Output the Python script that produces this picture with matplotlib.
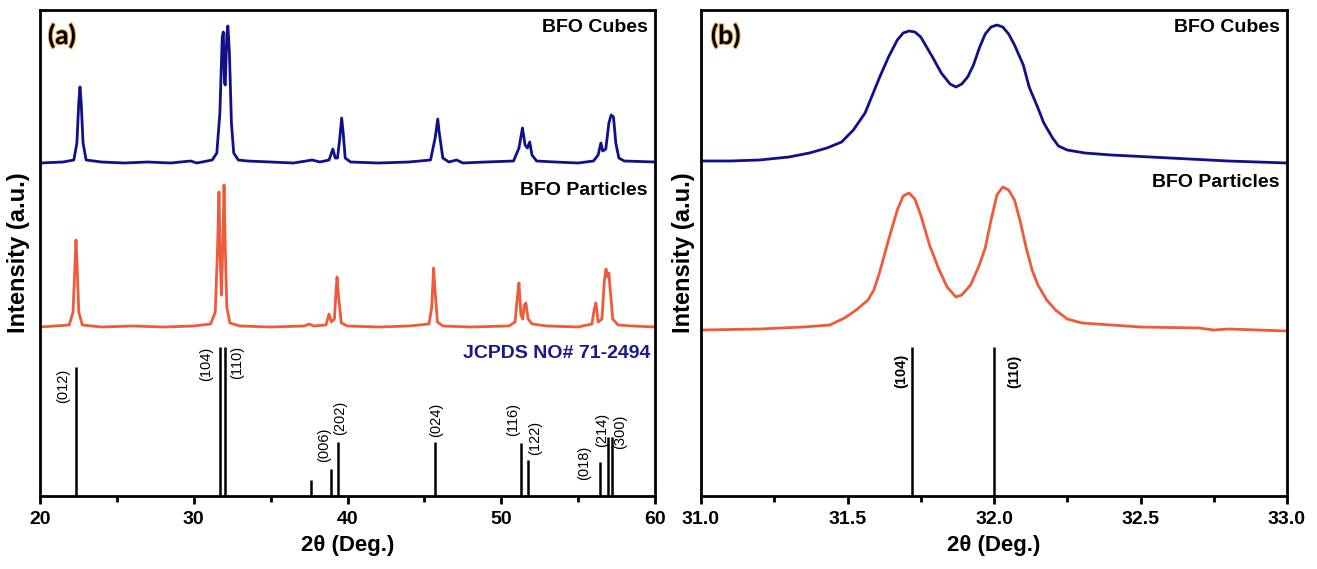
import matplotlib
matplotlib.use('Agg')
import matplotlib.pyplot as plt
import matplotlib.patheffects as pe
from matplotlib.ticker import MultipleLocator, FormatStrFormatter

# ---- data (intensity in arbitrary units above each baseline) ----
wide_2theta_cubes = [20.0, 21.5, 22.2, 22.4, 22.52, 22.6, 22.68, 22.8, 23.0, 24.0, 25.5, 27.0, 28.5,
                     29.8, 30.2, 31.2, 31.5, 31.7, 31.85, 31.92, 32.0, 32.05, 32.15, 32.22, 32.32,
                     32.45, 32.6, 32.9, 33.5, 35.0, 36.5, 37.7, 38.2, 38.8, 39.05, 39.2, 39.35, 39.5,
                     39.62, 39.72, 39.85, 40.2, 42.0, 44.0, 45.4, 45.7, 45.87, 45.97, 46.2, 46.6,
                     47.1, 47.5, 49.0, 50.8, 51.15, 51.38, 51.55, 51.7, 51.85, 52.0, 52.3, 53.5,
                     55.0, 56.0, 56.3, 56.48, 56.6, 56.8, 57.0, 57.15, 57.3, 57.45, 57.65, 58.0, 60.0]
wide_int_cubes = [0, 1, 3, 20, 60, 76, 60, 20, 3, 1, 0, 1, 0,
                  2, 0, 3, 10, 50, 125, 131, 80, 78, 128, 137, 110,
                  40, 10, 3, 2, 1, 0, 3, 1, 3, 14, 5, 5, 25,
                  45, 30, 5, 1, 0, 1, 3, 25, 44, 30, 5, 1,
                  3, 0, 1, 2, 15, 35, 18, 15, 21, 8, 2, 1,
                  0, 2, 8, 20, 12, 14, 40, 48, 46, 20, 5, 2, 1]

wide_2theta_particles = [20.0, 21.0, 21.9, 22.15, 22.27, 22.34, 22.42, 22.52, 22.75, 24.0, 26.0, 28.0,
                         30.0, 31.1, 31.4, 31.55, 31.64, 31.72, 31.8, 31.88, 31.97, 32.05, 32.15,
                         32.35, 33.0, 35.0, 37.2, 37.5, 37.8, 38.6, 38.8, 38.95, 39.15, 39.25, 39.32,
                         39.42, 39.6, 40.0, 42.0, 44.0, 45.3, 45.48, 45.6, 45.7, 45.85, 46.2, 48.0,
                         50.5, 50.9, 51.05, 51.15, 51.28, 51.4, 51.5, 51.6, 51.75, 52.0, 53.0, 55.0,
                         55.9, 56.05, 56.16, 56.3, 56.55, 56.7, 56.81, 56.92, 57.0, 57.1, 57.25,
                         57.6, 58.5, 60.0]
wide_int_particles = [0, 1, 2, 15, 60, 87, 60, 15, 2, 0, 1, 0,
                      1, 3, 15, 80, 135, 70, 32, 75, 142, 80, 20,
                      4, 1, 0, 1, 3, 1, 2, 13, 5, 8, 35, 50,
                      30, 4, 1, 0, 1, 3, 20, 59, 35, 5, 1, 0,
                      1, 5, 30, 44, 12, 8, 22, 24, 8, 3, 1, 0,
                      3, 18, 24, 5, 8, 45, 58, 50, 54, 35, 8,
                      2, 1, 0]

zoom_2theta_cubes = [31.0, 31.1, 31.2, 31.3, 31.37, 31.43, 31.48, 31.52, 31.56, 31.61, 31.64, 31.67,
                     31.69, 31.71, 31.73, 31.75, 31.77, 31.79, 31.82, 31.85, 31.87, 31.89, 31.91,
                     31.93, 31.95, 31.97, 31.99, 32.01, 32.03, 32.05, 32.07, 32.10, 32.12, 32.15,
                     32.17, 32.20, 32.22, 32.25, 32.31, 32.4, 32.6, 32.8, 33.0]
zoom_int_cubes = [2, 2, 3, 6, 10, 15, 21, 33, 50, 86, 106, 123,
                  130, 132, 131, 126, 116, 106, 90, 79, 76, 79, 86,
                  98, 115, 129, 136, 138, 136, 129, 118, 98, 76, 55,
                  40, 25, 17, 13, 10, 8, 5, 2, 0]

zoom_2theta_particles = [31.0, 31.2, 31.35, 31.44, 31.49, 31.53, 31.57, 31.59, 31.61, 31.64, 31.67,
                         31.69, 31.71, 31.73, 31.75, 31.78, 31.81, 31.84, 31.87, 31.89, 31.92,
                         31.95, 31.97, 31.99, 32.01, 32.03, 32.05, 32.07, 32.09, 32.11, 32.13,
                         32.15, 32.18, 32.21, 32.25, 32.3, 32.5, 32.7, 32.75, 32.8, 33.0]
zoom_int_particles = [1, 2, 4, 6, 13, 21, 31, 41, 59, 91, 121,
                      135, 138, 132, 116, 86, 63, 44, 34, 36, 46,
                      66, 83, 111, 136, 144, 141, 131, 109, 83, 61,
                      46, 31, 21, 12, 8, 4, 3, 1, 2, 0]

ref_2theta = [22.34, 31.72, 32.0, 37.6, 38.9, 39.35, 45.72, 51.3, 51.75, 56.42, 56.96, 57.18]
ref_int = [129, 149, 149, 16, 27, 54, 54, 53, 36, 34, 59, 59]
ref_hkl = ['(012)', '(104)', '(110)', '', '(006)', '(202)', '(024)', '(116)', '(122)', '(018)',
           '(214)', '(300)']

sample_names = ['BFO Cubes', 'BFO Particles']
card_name = 'JCPDS NO# 71-2494'

# ---- layout ----
BLUE = '#10108a'
RED = '#ef5a3a'
NAVY = '#1a1a8e'
W, H = 1317, 569

plt.rcParams['font.family'] = ['Liberation Sans', 'DejaVu Sans']
plt.rcParams['font.weight'] = 'bold'
plt.rcParams['axes.linewidth'] = 2.0

fig = plt.figure(figsize=(W / 100, H / 100), dpi=100)
ax1 = fig.add_axes([40 / W, 1 - 496 / H, 615 / W, 486 / H])
ax2 = fig.add_axes([701 / W, 1 - 496 / H, 586 / W, 486 / H])

# label centres (2theta, height) for the reflection names
wide_label_pos = [(21.5, 110), (30.8, 132), (32.8, 134), None, (38.45, 51), (39.55, 78),
                  (45.75, 76), (50.75, 76), (52.2, 58), (55.4, 33), (56.55, 66), (57.7, 64)]
zoom_label_pos = {'(104)': (31.685, 125), '(110)': (32.07, 125)}

panels = [
    (ax1, wide_2theta_cubes, wide_int_cubes, wide_2theta_particles, wide_int_particles, 333, 169, '(a)'),
    (ax2, zoom_2theta_cubes, zoom_int_cubes, zoom_2theta_particles, zoom_int_particles, 333, 165, '(b)'),
]

for ax, xc, yc, xp, yp, off_c, off_p, tag in panels:
    ax.plot(xc, [v + off_c for v in yc], color=BLUE, lw=2.0, solid_joinstyle='round')
    ax.plot(xp, [v + off_p for v in yp], color=RED, lw=2.0, solid_joinstyle='round')
    ax.set_ylim(0, 486)
    ax.set_yticks([])
    ax.set_ylabel('Intensity (a.u.)', fontsize=17, fontweight='bold')
    ax.set_xlabel('2θ (Deg.)', fontsize=16, fontweight='bold', labelpad=5)
    ax.tick_params(axis='x', which='major', direction='out', length=6, width=2,
                   labelsize=14, pad=5)
    ax.tick_params(axis='x', which='minor', direction='out', length=4, width=2)
    ax.text(0.988, 0.955, sample_names[0], transform=ax.transAxes, ha='right', va='baseline',
            fontsize=14, fontweight='bold')
    t = ax.text(0.013 if tag == '(a)' else 0.017, 0.93, tag, transform=ax.transAxes,
                ha='left', va='baseline', fontsize=19, fontweight='bold', family=['Lato', 'DejaVu Sans'])
    t.set_path_effects([pe.withStroke(linewidth=1.5, foreground='#e8a040')])

# wide scan
ax1.set_xlim(20, 60)
ax1.xaxis.set_major_locator(MultipleLocator(10))
ax1.xaxis.set_minor_locator(MultipleLocator(5))
ax1.vlines(ref_2theta, 0, ref_int, color='black', lw=1.8)
for hkl, pos in zip(ref_hkl, wide_label_pos):
    if pos is None:
        continue
    ax1.text(pos[0], pos[1], hkl, rotation=90, ha='center', va='center', fontsize=10.5,
             fontweight='normal')
ax1.text(0.988, 0.619, sample_names[1], transform=ax1.transAxes, ha='right', va='baseline',
         fontsize=14, fontweight='bold')
ax1.text(0.992, 0.284, card_name, transform=ax1.transAxes, ha='right', va='baseline',
         fontsize=14, fontweight='bold', color=NAVY)
ax1.yaxis.set_label_coords(-0.016, 0.5)

# zoomed (104)/(110) doublet
ax2.set_xlim(31, 33)
ax2.xaxis.set_major_locator(MultipleLocator(0.5))
ax2.xaxis.set_minor_locator(MultipleLocator(0.25))
ax2.xaxis.set_major_formatter(FormatStrFormatter('%.1f'))
zx = [x for x in ref_2theta if 31 <= x <= 33]
zy = [y for x, y in zip(ref_2theta, ref_int) if 31 <= x <= 33]
ax2.vlines(zx, 0, zy, color='black', lw=1.8)
for hkl, (px, py) in zoom_label_pos.items():
    ax2.text(px, py, hkl, rotation=90, ha='center', va='center', fontsize=10.5, fontweight='bold')
ax2.text(0.988, 0.636, sample_names[1], transform=ax2.transAxes, ha='right', va='baseline',
         fontsize=14, fontweight='bold')
ax2.yaxis.set_label_coords(-0.01, 0.5)

for ax in (ax1, ax2):
    for lab in ax.get_xticklabels():
        lab.set_fontweight('bold')

fig.savefig('out.png', dpi=100)
